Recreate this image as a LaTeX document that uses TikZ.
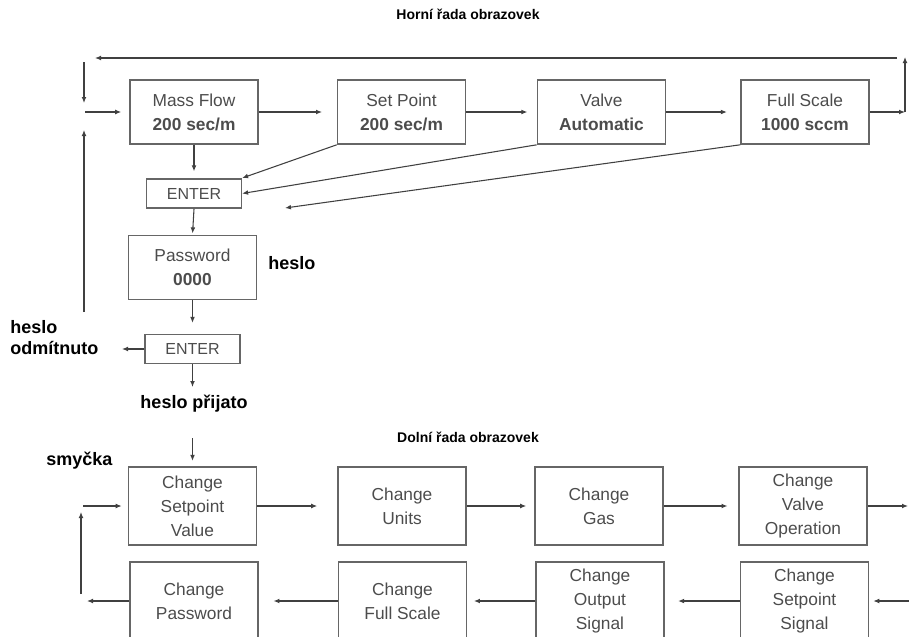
\documentclass[tikz,border=0pt]{standalone}
\usepackage{fontspec}
\setmainfont{Liberation Sans}
\usetikzlibrary{arrows.meta}

\begin{document}
\begin{tikzpicture}[
		x=0.75pt, y=-0.75pt,
		b/.style = {rectangle,	draw=black!60,	line width=1.2pt,	minimum width=96pt,	minimum height=48pt,	inner sep=0pt,	align=center,	text=black!70,	font=\fontsize{13}{18}\selectfont},
		c/.style = {b,	minimum height=58.5pt},
		e/.style = {b,	minimum width=71pt,	minimum height=22pt,	font=\fontsize{12}{14}\selectfont},
		l/.style = {align=left,	text=black,	inner sep=0pt,	font=\bfseries\fontsize{13.5}{15.75}\selectfont},
		t/.style = {text=black,	font=\bfseries\fontsize{10.5}{12}\selectfont},
		r/.style = {-{Latex[length=4.5pt, width=3.6pt]},	draw=black!75,	line width=0.8pt}
		]
		
		\useasboundingbox (0, 0) rectangle (909, 636);
		
		%Nodes
		\node[b]	(mf)	at	(194, 112)		{Mass Flow\\\textbf{200 sec/m}};
		\node[b]	(sp)	at	(401.5, 112)	{Set Point\\\textbf{200 sec/m}};
		\node[b]	(va)	at	(601.5, 112)	{Valve\\\textbf{Automatic}};
		\node[b]	(fs)	at	(805, 112)		{Full Scale\\\textbf{1000 sccm}};
		
		\node[e]	(en1)	at	(194, 193.5)	{ENTER};
		\node[b]	(pw)	at	(192.5, 267.5)	{Password\\\textbf{0000}};
		\node[e]	(en2)	at	(192.5, 349)	{ENTER};
		
		\node[c]	(csv)	at	(192.5, 506)	{Change\\Setpoint\\Value};
		\node[c]	(cu)	at	(402, 506)		{Change\\Units};
		\node[c]	(cg)	at	(599, 506)		{Change\\Gas};
		\node[c]	(cvo)	at	(803, 506)		{Change\\Valve\\Operation};
		
		\node[c]	(cpw)	at	(194, 601)		{Change\\Password};
		\node[c]	(cfs)	at	(402.5, 601)	{Change\\Full Scale};
		\node[c]	(cos)	at	(600, 601)		{Change\\Output\\Signal};
		\node[c]	(css)	at	(804.5, 601)	{Change\\Setpoint\\Signal};
		
		% labels
		\node[t]				(top)	at	(468, 14)		{Horní řada obrazovek};
		\node[l, anchor=west]	(hs)	at	(268, 263)		{heslo};
		\node[l, anchor=west]	(odm)	at	(10, 338)		{heslo\\odmítnuto};
		\node[l]				(prj)	at	(194, 404)		{heslo přijato};
		\node[t]				(bot)	at	(468, 437)		{Dolní řada obrazovek};
		\node[l, anchor=west]	(smy)	at	(46, 461)		{smyčka};
		
		% free ends
		\coordinate	(rt1)	at	(905, 112);
		\coordinate	(rt2)	at	(905, 57);
		\coordinate	(tp1)	at	(897, 58);
		\coordinate	(tp2)	at	(95, 58);
		\coordinate	(lf1)	at	(84, 62);
		\coordinate	(lf2)	at	(84, 103);
		\coordinate	(lf3)	at	(85, 112);
		\coordinate	(lf4)	at	(84, 312);
		\coordinate	(lf5)	at	(84, 130);
		\coordinate	(fsd)	at	(285, 208);
		\coordinate	(rej)	at	(122, 349);
		\coordinate	(acc)	at	(192.5, 387);
		\coordinate	(lin)	at	(192.5, 438);
		\coordinate	(cl1)	at	(83, 506);
		\coordinate	(ro1)	at	(908, 506);
		\coordinate	(ri1)	at	(909, 601);
		\coordinate	(pl1)	at	(87, 601);
		\coordinate	(pl2)	at	(81, 594);
		\coordinate	(pl3)	at	(81, 512);
		
		%Lines
		\draw[r]	(fs.east)	--	(rt1);
		\draw[r]	(rt1)		--	(rt2);
		\draw[r]	(tp1)		--	(tp2);
		\draw[r]	(lf1)		--	(lf2);
		\draw[r, shorten >=6pt]	(lf3)	--	(mf.west);
		\draw[r]	(lf4)		--	(lf5);
		
		\draw[r, shorten >=11pt]	(mf.east)	--	(sp.west);
		\draw[r, shorten >=7pt]		(sp.east)	--	(va.west);
		\draw[r, shorten >=10pt]	(va.east)	--	(fs.west);
		
		\draw[r, shorten >=5pt]	(mf.south)	--	(en1.north);
		\draw[r]	(sp.south west)	--	(en1.north east);
		\draw[r]	(va.south west)	--	(en1.east);
		\draw[r]	(fs.south west)	--	(fsd);
		
		\draw[r, shorten >=1pt]	(en1.south)	--	(pw.north);
		\draw[r, shorten >=8pt]	(pw.south)	--	(en2.north);
		\draw[r]	(en2.west)	--	(rej);
		\draw[r]	(en2.south)	--	(acc);
		\draw[r, shorten >=4pt]	(lin)	--	(csv.north);
		
		\draw[r, shorten >=4.5pt]	(cl1)		--	(csv.west);
		\draw[r, shorten >=15pt]	(csv.east)	--	(cu.west);
		\draw[r, shorten >=6pt]		(cu.east)	--	(cg.west);
		\draw[r, shorten >=8pt]		(cg.east)	--	(cvo.west);
		\draw[r]	(cvo.east)	--	(ro1);
		
		\draw[r, shorten >=3pt]		(ri1)		--	(css.east);
		\draw[r, shorten >=10pt]	(css.west)	--	(cos.east);
		\draw[r, shorten >=5pt]		(cos.west)	--	(cfs.east);
		\draw[r, shorten >=11pt]	(cfs.west)	--	(cpw.east);
		\draw[r]	(cpw.west)	--	(pl1);
		\draw[r]	(pl2)		--	(pl3);
	\end{tikzpicture}
\end{document}
